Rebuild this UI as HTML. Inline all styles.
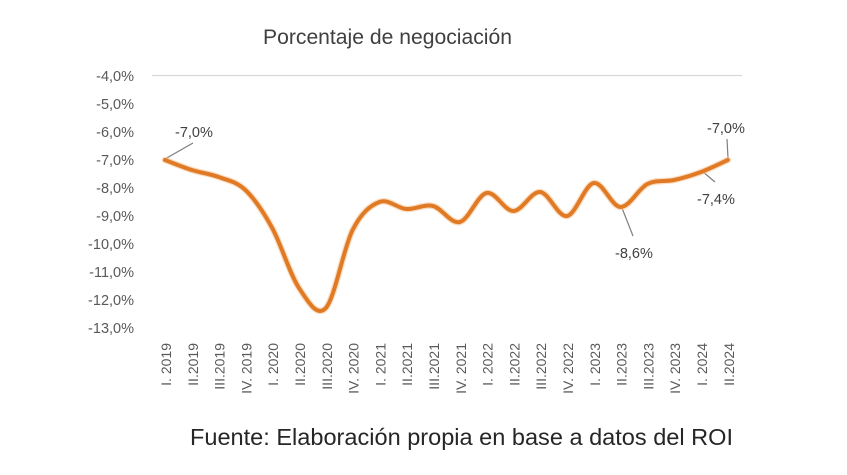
<!DOCTYPE html>
<html>
<head>
<meta charset="utf-8">
<style>
  html,body{margin:0;padding:0;background:#fff;}
  svg{display:block;}
  text{font-family:"Liberation Sans",Arial,sans-serif;}
</style>
</head>
<body>
<svg width="847" height="475" viewBox="0 0 847 475" xmlns="http://www.w3.org/2000/svg">
  <rect width="847" height="475" fill="#fff"/>
  <!-- Title -->
  <text x="263" y="44" font-size="21" fill="#404040" textLength="249" lengthAdjust="spacingAndGlyphs">Porcentaje de negociación</text>

  <!-- gridline -->
  <line x1="152" y1="75.5" x2="742" y2="75.5" stroke="#d9d9d9" stroke-width="1.2"/>

  <!-- Y axis labels -->
  <g font-size="14.5" fill="#595959" text-anchor="end">
    <text x="134" y="81">-4,0%</text>
    <text x="134" y="109">-5,0%</text>
    <text x="134" y="137">-6,0%</text>
    <text x="134" y="165">-7,0%</text>
    <text x="134" y="193">-8,0%</text>
    <text x="134" y="221">-9,0%</text>
    <text x="134" y="249">-10,0%</text>
    <text x="134" y="277">-11,0%</text>
    <text x="134" y="305">-12,0%</text>
    <text x="134" y="333">-13,0%</text>
  </g>

  <!-- X axis labels -->
  <g font-size="14" fill="#595959" text-anchor="end">
    <text transform="translate(171,343) rotate(-90)">I. 2019</text>
    <text transform="translate(197.8,343) rotate(-90)">II.2019</text>
    <text transform="translate(224.6,343) rotate(-90)">III.2019</text>
    <text transform="translate(251.4,343) rotate(-90)">IV. 2019</text>
    <text transform="translate(278.2,343) rotate(-90)">I. 2020</text>
    <text transform="translate(305,343) rotate(-90)">II.2020</text>
    <text transform="translate(331.8,343) rotate(-90)">III.2020</text>
    <text transform="translate(358.6,343) rotate(-90)">IV. 2020</text>
    <text transform="translate(385.4,343) rotate(-90)">I. 2021</text>
    <text transform="translate(412.2,343) rotate(-90)">II.2021</text>
    <text transform="translate(439,343) rotate(-90)">III.2021</text>
    <text transform="translate(465.8,343) rotate(-90)">IV. 2021</text>
    <text transform="translate(492.6,343) rotate(-90)">I. 2022</text>
    <text transform="translate(519.4,343) rotate(-90)">II.2022</text>
    <text transform="translate(546.2,343) rotate(-90)">III.2022</text>
    <text transform="translate(573,343) rotate(-90)">IV. 2022</text>
    <text transform="translate(599.8,343) rotate(-90)">I. 2023</text>
    <text transform="translate(626.6,343) rotate(-90)">II.2023</text>
    <text transform="translate(653.4,343) rotate(-90)">III.2023</text>
    <text transform="translate(680.2,343) rotate(-90)">IV. 2023</text>
    <text transform="translate(707,343) rotate(-90)">I. 2024</text>
    <text transform="translate(733.8,343) rotate(-90)">II.2024</text>
  </g>

  <!-- Leader lines -->
  <g stroke="#7f7f7f" stroke-width="1.2" fill="none">
    <line x1="165" y1="159" x2="193" y2="143"/>
    <line x1="728" y1="158" x2="727" y2="139"/>
    <line x1="702" y1="171" x2="715" y2="182"/>
    <line x1="622" y1="208" x2="633" y2="236"/>
  </g>

  <!-- Series -->
  <path d="M165,160
    C169.47,161.67 182.87,167.17 191.8,170
    C200.73,172.83 209.67,173.67 218.6,177
    C227.53,180.33 236.47,181.5 245.4,190
    C254.33,198.5 263.27,211.67 272.2,228
    C281.13,244.33 290.07,274.67 299,288
    C307.93,301.33 316.87,317.67 325.8,308
    C334.73,298.33 343.67,247.67 352.6,230
    C361.53,212.33 370.47,205.5 379.4,202
    C388.33,198.5 397.27,208.33 406.2,209
    C415.13,209.67 424.07,203.83 433,206
    C441.93,208.17 450.87,224.17 459.8,222
    C468.73,219.83 477.67,194.83 486.6,193
    C495.53,191.17 504.47,211.17 513.4,211
    C522.33,210.83 531.27,191.17 540.2,192
    C549.13,192.83 558.07,217.5 567,216
    C575.93,214.5 584.87,184.5 593.8,183
    C602.73,181.5 611.67,206.83 620.6,207
    C629.53,207.17 638.47,188.5 647.4,184
    C656.33,179.5 665.27,182 674.2,180
    C683.13,178 692.07,175.33 701,172
    C709.93,168.67 723.33,162 727.8,160"
    fill="none" stroke="#f6c79a" stroke-width="6.5" stroke-linecap="round" stroke-linejoin="round" opacity="0.6"/>
  <path d="M165,160
    C169.47,161.67 182.87,167.17 191.8,170
    C200.73,172.83 209.67,173.67 218.6,177
    C227.53,180.33 236.47,181.5 245.4,190
    C254.33,198.5 263.27,211.67 272.2,228
    C281.13,244.33 290.07,274.67 299,288
    C307.93,301.33 316.87,317.67 325.8,308
    C334.73,298.33 343.67,247.67 352.6,230
    C361.53,212.33 370.47,205.5 379.4,202
    C388.33,198.5 397.27,208.33 406.2,209
    C415.13,209.67 424.07,203.83 433,206
    C441.93,208.17 450.87,224.17 459.8,222
    C468.73,219.83 477.67,194.83 486.6,193
    C495.53,191.17 504.47,211.17 513.4,211
    C522.33,210.83 531.27,191.17 540.2,192
    C549.13,192.83 558.07,217.5 567,216
    C575.93,214.5 584.87,184.5 593.8,183
    C602.73,181.5 611.67,206.83 620.6,207
    C629.53,207.17 638.47,188.5 647.4,184
    C656.33,179.5 665.27,182 674.2,180
    C683.13,178 692.07,175.33 701,172
    C709.93,168.67 723.33,162 727.8,160"
    fill="none" stroke="#e07a24" stroke-width="4" stroke-linecap="round" stroke-linejoin="round"/>

  <!-- Data labels -->
  <g font-size="14.5" fill="#404040">
    <text x="175" y="137">-7,0%</text>
    <text x="707" y="133">-7,0%</text>
    <text x="697" y="204">-7,4%</text>
    <text x="615" y="258">-8,6%</text>
  </g>

  <!-- Footer -->
  <text x="190" y="445" font-size="23" fill="#262626" textLength="543" lengthAdjust="spacingAndGlyphs">Fuente: Elaboración propia en base a datos del ROI</text>
</svg>
</body>
</html>
